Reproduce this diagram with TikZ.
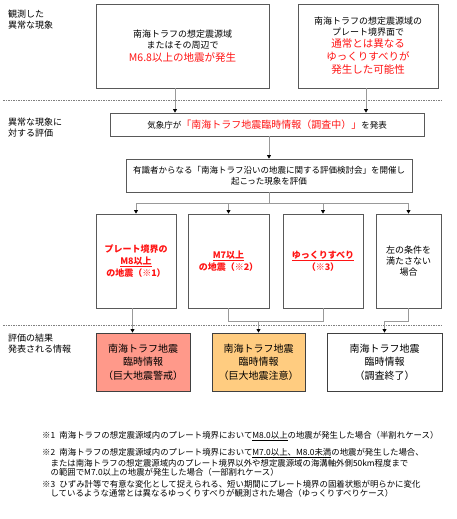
\documentclass[tikz,border=0pt]{standalone}
\usepackage{fontspec}
\setmainfont{Noto Sans CJK JP}
\usetikzlibrary{arrows.meta}
\definecolor{alarm}{RGB}{255,153,138}
\definecolor{caution}{RGB}{255,204,128}
\definecolor{alert}{RGB}{255,20,20}
\newcommand{\redtxt}[1]{{\color{alert}\fontsize{10.5}{13}\selectfont #1}}
\begin{document}
\begin{tikzpicture}[x=1pt, y=-1pt,
  box/.style={draw=black!65, line width=0.9pt, inner sep=0pt, align=center, font=\fontsize{9}{11}\selectfont},
  case/.style={box, minimum height=94pt, text=alert, font=\fontsize{9}{12}\selectfont\bfseries},
  res/.style={box, draw=black!75, minimum height=58pt, font=\fontsize{10}{13.5}\selectfont},
  lbl/.style={anchor=west, align=left, inner sep=0pt, font=\fontsize{9}{11}\selectfont},
  note/.style={anchor=north west, align=left, inner sep=0pt, font=\fontsize{8.4}{9.2}\selectfont},
  conn/.style={draw=black!40, line width=0.7pt},
  arr/.style={conn, -{Triangle[color=black, length=3.5pt, width=4pt]}},
  sep/.style={draw=black!50, line width=0.5pt, dash pattern=on 1.5pt off 1pt}]
\useasboundingbox (0,0) rectangle (456,519);
\node[lbl] (lblObs) at (8,20) {観測した\\異常な現象};
\node[lbl] (lblEval) at (8,128) {異常な現象に\\対する評価};
\node[lbl] (lblRes) at (8,343.5) {評価の結果\\発表される情報};
\node[box, minimum width=173pt, minimum height=84pt] (obsA) at (182.5,46) {南海トラフの想定震源域\\またはその周辺で\\[2pt]\redtxt{M6.8以上の地震が発生}};
\node[box, minimum width=140pt, minimum height=84pt] (obsB) at (368,46) {南海トラフの想定震源域の\\プレート境界面で\\[1pt]\redtxt{通常とは異なる}\\[2pt]\redtxt{ゆっくりすべりが}\\[2pt]\redtxt{発生した可能性}};
\node[box, minimum width=314pt, minimum height=23pt, font=\fontsize{8.5}{10}\selectfont] (jma) at (267,124.5) {気象庁が{\color{alert}\fontsize{10}{12}\selectfont「南海トラフ地震臨時情報（調査中）」}を発表};
\node[box, minimum width=286pt, minimum height=33pt, font=\fontsize{8.5}{11}\selectfont] (panel) at (269,175.5) {有識者からなる「南海トラフ沿いの地震に関する評価検討会」を開催し\\起こった現象を評価};
\node[case, minimum width=80pt] (caseA) at (136,261) {プレート境界の\\\underline{M8以上}\\の地震（※1）};
\node[case, minimum width=81pt] (caseB) at (228.5,261) {\underline{M7以上}\\の地震（※2）};
\node[case, minimum width=80pt] (caseC) at (323,261) {\underline{ゆっくりすべり}\\（※3）};
\node[box, minimum width=65pt, minimum height=94pt] (caseD) at (408.5,261) {左の条件を\\満たさない\\場合};
\node[res, fill=alarm, minimum width=94pt] (resA) at (143,362) {南海トラフ地震\\臨時情報\\（巨大地震警戒）};
\node[res, fill=caution, minimum width=93pt] (resB) at (258.5,362) {南海トラフ地震\\臨時情報\\（巨大地震注意）};
\node[res, minimum width=115pt] (resC) at (384.5,362) {南海トラフ地震\\臨時情報\\（調査終了）};
\node[note] (fn1) at (42,431) {※1\enspace 南海トラフの想定震源域内のプレート境界において\underline{M8.0以上}の地震が発生した場合（半割れケース）};
\node[note] (fn2) at (42,448) {※2\enspace 南海トラフの想定震源域内のプレート境界において\underline{M7.0以上、M8.0未満}の地震が発生した場合、\\\hspace*{1em}または南海トラフの想定震源域内のプレート境界以外や想定震源域の海溝軸外側50km程度まで\\\hspace*{1em}の範囲でM7.0以上の地震が発生した場合（一部割れケース）};
\node[note] (fn3) at (42,480) {※3\enspace ひずみ計等で有意な変化として捉えられる、短い期間にプレート境界の固着状態が明らかに変化\\\hspace*{1em}しているような通常とは異なるゆっくりすべりが観測された場合（ゆっくりすべりケース）};
\draw[sep] (3,100) -- (443,100);
\draw[sep] (3,325) -- (443,325);
\draw[arr] ([xshift=-7.5pt]obsA.south) -- ([xshift=-7.5pt]obsA.south |- jma.north);
\draw[arr] ([xshift=-2pt]obsB.south) -- ([xshift=-2pt]obsB.south |- jma.north);
\draw[arr] (jma.south -| panel.north) -- (panel.north);
\draw[conn] (panel.south) -- ++(0,11) coordinate (split);
\draw[conn] (split -| caseA.north) -- (split -| caseD.north);
\foreach \c in {caseA,caseB,caseC,caseD}
  \draw[arr] (split -| \c.north) -- (\c.north);
\draw[arr] ([xshift=-3.5pt]caseA.south) -- ([xshift=-3.5pt]caseA.south |- resA.north);
\draw[conn] (caseB.south) -- ++(0,13) coordinate (joinB) -| (caseC.south);
\draw[arr] (joinB -| resB.north) -- (resB.north);
\draw[arr] (caseD.south) -- ++(0,13) -| (resC.north);
\end{tikzpicture}
\end{document}
